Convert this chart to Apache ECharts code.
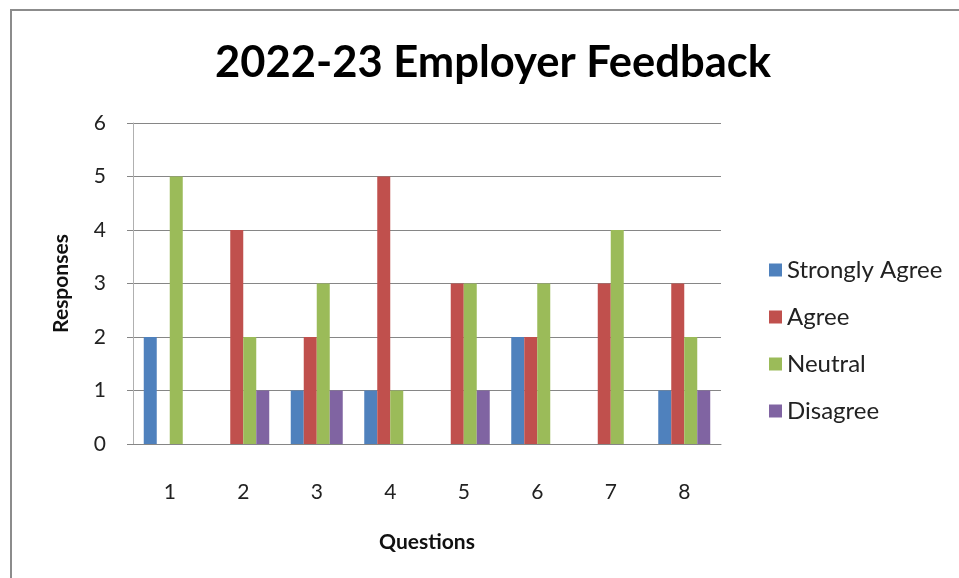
<!DOCTYPE html>
<html>
<head>
<meta charset="utf-8">
<script src="https://cdn.jsdelivr.net/npm/echarts@6/dist/echarts.min.js"></script>
<style>
html,body{margin:0;padding:0;background:#fff;}
#chart{width:959px;height:578px;}
</style>
</head>
<body>
<div id="chart"></div>
<script>
var categories = ['1','2','3','4','5','6','7','8'];
var stronglyAgree = [2,0,1,1,0,2,0,1];
var agree = [0,4,2,5,3,2,3,3];
var neutral = [5,2,3,1,3,3,4,2];
var disagree = [0,1,1,0,1,0,0,1];
var seriesNames = ['Strongly Agree','Agree','Neutral','Disagree'];
var colors = ['#4F81BD','#C0504D','#9BBB59','#8064A2'];

var font = 'Lato, "Open Sans", sans-serif';
var chart = echarts.init(document.getElementById('chart'), null, {renderer:'canvas'});
var values = [stronglyAgree, agree, neutral, disagree];
var series = values.map(function(v,i){
  return {name: seriesNames[i], type:'bar', data:v, barWidth:13, barGap:'0%',
    itemStyle:{color:colors[i]}, emphasis:{disabled:true}};
});
chart.setOption({
  animation:false,
  backgroundColor:'#fff',
  graphic:[{type:'rect', shape:{x:11,y:10,width:970,height:600},
    style:{fill:'none', stroke:'#8c8c8c', lineWidth:2}, silent:true}],
  title:{text:'2022-23 Employer Feedback', left:488, top:36, textAlign:'center',
    textStyle:{fontFamily:font, fontWeight:'bold', fontSize:43.5, color:'#000'}},
  legend:{orient:'vertical', left:764, top:253, itemGap:23, itemWidth:13, itemHeight:13,
    icon:'rect', data:seriesNames,
    textStyle:{fontFamily:font, fontSize:24, color:'#222', padding:[0,0,0,0]}},
  grid:{left:133, top:123, width:588, height:321, containLabel:false},
  xAxis:{type:'category', data:categories,
    name:'Questions', nameLocation:'middle', nameGap:88,
    nameTextStyle:{fontFamily:font, fontWeight:'bold', fontSize:21, color:'#111'},
    axisLine:{show:true, lineStyle:{color:'#868686', width:1}},
    axisTick:{show:false},
    axisLabel:{fontFamily:font, fontSize:21, color:'#222', margin:38}},
  yAxis:{type:'value', min:0, max:6, interval:1,
    name:'Responses', nameLocation:'middle', nameGap:61, nameRotate:90,
    nameTextStyle:{fontFamily:font, fontWeight:'bold', fontSize:21, color:'#111'},
    axisLine:{show:true, lineStyle:{color:'#b0b0b0', width:1}},
    axisTick:{show:true, length:6, lineStyle:{color:'#868686'}},
    splitLine:{show:true, lineStyle:{color:'#868686', width:1}},
    axisLabel:{fontFamily:font, fontSize:21, color:'#222', margin:27}},
  series: series
});
</script>
</body>
</html>
